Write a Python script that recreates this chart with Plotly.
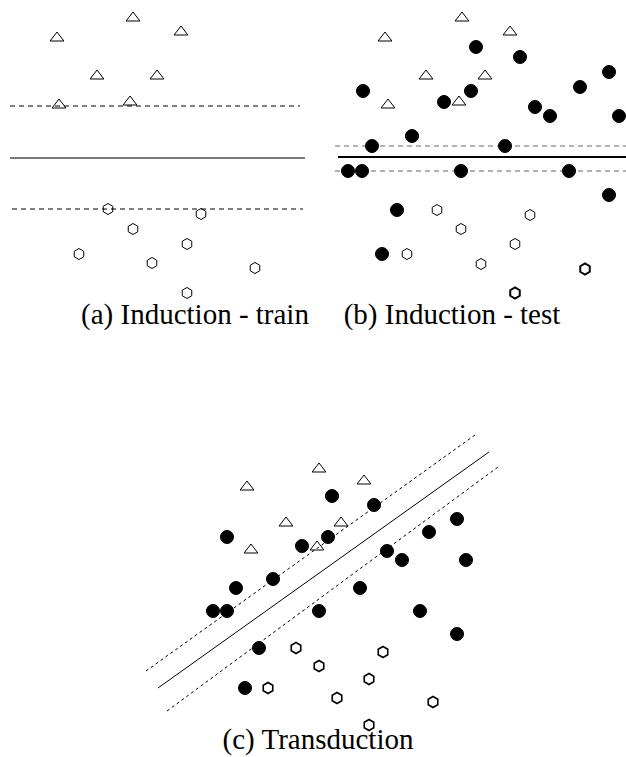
import plotly.graph_objects as go

# ---- Panel (a) Induction - train ----
a_tri_x = [133, 57, 181, 97, 157, 59, 130]
a_tri_y = [18, 38, 32, 76, 76, 105, 102]
a_hex_x = [108, 201, 133, 187, 79, 152, 255, 187]
a_hex_y = [209, 214, 229, 244, 254, 263, 268, 293]
a_solid_x = [10, 305]; a_solid_y = [158, 158]
a_dash_up_x = [10, 300]; a_dash_up_y = [106, 106]
a_dash_lo_x = [12, 303]; a_dash_lo_y = [209, 209]

# ---- Panel (b) Induction - test ----
b_tri_x = [462, 385, 510, 426, 485, 388, 459]
b_tri_y = [18, 38, 32, 76, 76, 105, 102]
b_dot_x = [476, 520, 363, 471, 444, 535, 550, 580, 609, 619, 412, 372, 505, 348, 362, 461, 569, 609, 397, 382]
b_dot_y = [47, 57, 91, 91, 102, 107, 116, 87, 72, 116, 136, 146, 146, 171, 171, 171, 171, 195, 210, 254]
b_hex_x = [437, 530, 461, 515, 407, 481]
b_hex_y = [210, 215, 229, 244, 254, 264]
b_hexbold_x = [585, 515]
b_hexbold_y = [269, 293]
b_solid_x = [338, 626]; b_solid_y = [157, 157]
b_dash_up_x = [335, 626]; b_dash_up_y = [146, 146]
b_dash_lo_x = [335, 626]; b_dash_lo_y = [171, 171]

# ---- Panel (c) Transduction ----
c_tri_x = [319, 247, 364, 286, 341, 251, 317]
c_tri_y = [469, 487, 481, 523, 523, 550, 547]
c_dot_x = [332, 374, 227, 302, 328, 457, 429, 387, 402, 466, 273, 236, 360, 213, 227, 319, 420, 457, 259, 245]
c_dot_y = [496, 505, 537, 546, 537, 519, 532, 551, 560, 560, 579, 588, 588, 611, 611, 611, 611, 634, 648, 688]
c_hex_x = [296, 383, 319, 369, 268, 337, 433, 369]
c_hex_y = [648, 652, 666, 679, 688, 698, 702, 725]
c_solid_x = [158, 489]; c_solid_y = [688, 452]
c_dash_up_x = [146, 475]; c_dash_up_y = [671, 435]
c_dash_lo_x = [167, 498]; c_dash_lo_y = [711, 467]

captions = ["(a) Induction - train", "(b) Induction - test", "(c) Transduction"]
caption_x = [195, 452, 318]
caption_y = [317, 317, 742]

fig = go.Figure()

def line(x, y, color, width, dash="solid"):
    fig.add_trace(go.Scatter(x=x, y=y, mode="lines",
                             line=dict(color=color, width=width, dash=dash),
                             hoverinfo="skip"))

def pts(x, y, symbol, size, lw=1, color="black"):
    fig.add_trace(go.Scatter(x=x, y=y, mode="markers",
                             marker=dict(symbol=symbol, size=size, color=color,
                                         line=dict(color=color, width=lw)),
                             hoverinfo="skip"))

# panel a
line(a_solid_x, a_solid_y, "#777777", 2)
line(a_dash_up_x, a_dash_up_y, "black", 1, "5px,4px")
line(a_dash_lo_x, a_dash_lo_y, "black", 1, "5px,4px")
pts(a_tri_x, a_tri_y, "triangle-up-open", 12)
pts(a_hex_x, a_hex_y, "hexagon-open", 11)

# panel b
line(b_solid_x, b_solid_y, "black", 2)
line(b_dash_up_x, b_dash_up_y, "#666666", 1, "5px,4px")
line(b_dash_lo_x, b_dash_lo_y, "#666666", 1, "5px,4px")
pts(b_tri_x, b_tri_y, "triangle-up-open", 12)
pts(b_hex_x, b_hex_y, "hexagon-open", 11)
pts(b_hexbold_x, b_hexbold_y, "hexagon-open", 11, lw=2)
pts(b_dot_x, b_dot_y, "circle", 13)

# panel c
line(c_solid_x, c_solid_y, "black", 1)
line(c_dash_up_x, c_dash_up_y, "black", 1, "3px,3px")
line(c_dash_lo_x, c_dash_lo_y, "black", 1, "3px,3px")
pts(c_tri_x, c_tri_y, "triangle-up-open", 12)
pts(c_hex_x, c_hex_y, "hexagon-open", 11, lw=1.6)
pts(c_dot_x, c_dot_y, "circle", 13)

fig.add_trace(go.Scatter(x=caption_x, y=caption_y, mode="text", text=captions,
                         textposition="middle center",
                         textfont=dict(family="Liberation Serif, DejaVu Serif, serif",
                                       size=29, color="black"),
                         hoverinfo="skip"))

fig.update_layout(
    width=626, height=757,
    margin=dict(l=0, r=0, t=0, b=0),
    paper_bgcolor="white", plot_bgcolor="white",
    showlegend=False,
    xaxis=dict(range=[0, 626], visible=False, fixedrange=True),
    yaxis=dict(range=[757, 0], visible=False, fixedrange=True),
)

fig.write_html("out.html", config={"displayModeBar": False},
               post_script="document.body.style.margin='0px';document.body.style.overflow='hidden';")
